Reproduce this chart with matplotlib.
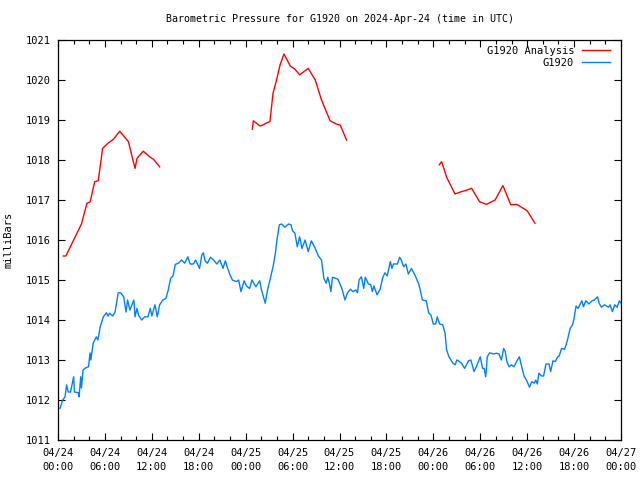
import matplotlib
matplotlib.use('Agg')
import matplotlib.pyplot as plt
from matplotlib.ticker import MultipleLocator

plt.rcParams['font.family'] = 'DejaVu Sans Mono'

# hours since 2024-04-24 00:00 UTC
analysis_hours_1 = [0.68, 1.0, 3.0, 3.7, 4.1, 4.7, 5.15, 5.7, 6.4, 7.1, 7.9, 9.0, 9.85, 10.1, 10.9, 11.8, 12.2, 13.0]
analysis_vals_1 = [1015.6, 1015.6, 1016.4, 1016.92, 1016.95, 1017.46, 1017.48, 1018.29, 1018.42, 1018.52, 1018.72,
                   1018.46, 1017.79, 1018.04, 1018.22, 1018.07, 1018.02, 1017.83]

analysis_hours_2 = [24.85, 24.98, 25.83, 26.25, 26.7, 27.1, 27.5, 28.0, 28.4, 28.9, 29.7, 30.3, 30.9, 32.0,
                    32.9, 33.7, 34.8, 35.6, 36.1, 36.9]
analysis_vals_2 = [1018.77, 1018.98, 1018.85, 1018.88, 1018.93, 1018.96, 1019.67, 1020.04, 1020.38, 1020.65,
                   1020.35, 1020.27, 1020.13, 1020.29, 1020.0, 1019.5, 1018.98, 1018.9, 1018.87, 1018.5]

analysis_hours_3 = [48.76, 49.06, 49.7, 50.77, 51.6, 52.0, 52.9, 53.9, 54.8, 55.9, 56.9, 57.9, 58.7, 60.0, 61.0]
analysis_vals_3 = [1017.88, 1017.96, 1017.57, 1017.15, 1017.21, 1017.23, 1017.29, 1016.96, 1016.89, 1017.0,
                   1017.36, 1016.88, 1016.89, 1016.73, 1016.42]

obs_hours = [0.25, 0.6, 0.9, 1.1, 1.3, 1.6, 2.0, 2.1, 2.6, 2.7, 2.9, 3.0, 3.2, 3.5, 3.9, 4.1, 4.2, 4.5, 4.9, 5.1,
             5.4, 5.8, 6.2, 6.4, 6.6, 7.0, 7.3, 7.7, 8.0, 8.4, 8.7, 8.9, 9.2, 9.7, 9.85, 10.1, 10.3, 10.7, 11.1,
             11.5, 11.8, 12.0, 12.4, 12.7, 13.0, 13.4, 13.8, 14.1, 14.4, 14.7, 15.0, 15.4, 15.8, 16.2, 16.6,
             16.9, 17.3, 17.6, 18.1, 18.4, 18.6, 18.8, 19.1, 19.5, 19.9, 20.3, 20.7, 21.1, 21.4, 21.7, 22.0,
             22.3, 22.8, 23.1, 23.4, 23.8, 24.1, 24.5, 24.8, 25.3, 25.8, 26.0, 26.5, 26.8, 27.1, 27.5, 27.8,
             28.0, 28.3, 28.6, 29.0, 29.5, 29.8, 30.0, 30.3, 30.6, 30.9, 31.2, 31.6, 32.0, 32.4, 32.9, 33.3,
             33.7, 34.0, 34.3, 34.5, 34.7, 34.9, 35.1, 35.5, 35.8, 36.3, 36.7, 37.0, 37.4, 37.7, 38.1, 38.3,
             38.5, 38.8, 39.1, 39.3, 39.7, 40.0, 40.2, 40.4, 40.8, 41.2, 41.5, 41.8, 42.1, 42.5, 42.7, 42.9,
             43.4, 43.7, 43.9, 44.2, 44.5, 44.8, 45.2, 45.7, 46.1, 46.3, 46.6, 47.1, 47.4, 47.7, 48.0, 48.3,
             48.5, 48.8, 49.2, 49.5, 49.7, 50.0, 50.5, 50.8, 51.0, 51.2, 51.6, 52.0, 52.5, 52.8, 53.2, 53.5,
             54.0, 54.3, 54.5, 54.7, 54.9, 55.2, 55.7, 56.1, 56.4, 56.7, 57.0, 57.2, 57.4, 57.7, 58.0, 58.3,
             58.7, 59.0, 59.3, 59.6, 59.9, 60.3, 60.6, 60.9, 61.1, 61.3, 61.5, 61.85, 62.1, 62.4, 62.8, 63.0,
             63.3, 63.6, 63.9, 64.1, 64.4, 64.8, 65.1, 65.5, 65.8, 66.0, 66.25, 66.5, 67.0, 67.2, 67.5, 67.9,
             68.3, 68.6, 69.0, 69.2, 69.5, 69.9, 70.4, 70.6, 70.9, 71.2, 71.5, 71.8, 72.0]
obs_vals = [1011.79, 1012.0, 1012.08, 1012.38, 1012.2, 1012.2, 1012.58, 1012.2, 1012.18, 1012.08, 1012.58, 1012.3,
            1012.75, 1012.8, 1012.83, 1013.18, 1013.0, 1013.42, 1013.58, 1013.5, 1013.83, 1014.08, 1014.18,
            1014.1, 1014.17, 1014.1, 1014.2, 1014.68, 1014.68, 1014.58, 1014.2, 1014.5, 1014.25, 1014.5,
            1014.08, 1014.29, 1014.12, 1014.0, 1014.08, 1014.08, 1014.29, 1014.1, 1014.38, 1014.08, 1014.38,
            1014.5, 1014.54, 1014.75, 1015.04, 1015.1, 1015.39, 1015.42, 1015.5, 1015.42, 1015.58, 1015.4,
            1015.4, 1015.5, 1015.29, 1015.63, 1015.68, 1015.48, 1015.42, 1015.57, 1015.5, 1015.4, 1015.5,
            1015.29, 1015.48, 1015.29, 1015.13, 1015.0, 1014.96, 1015.0, 1014.71, 1014.98, 1014.85, 1014.79,
            1015.0, 1014.83, 1014.98, 1014.77, 1014.42, 1014.75, 1015.0, 1015.33, 1015.67, 1016.0, 1016.38,
            1016.4, 1016.32, 1016.4, 1016.38, 1016.23, 1016.17, 1015.83, 1016.08, 1015.79, 1016.0, 1015.71,
            1015.98, 1015.79, 1015.6, 1015.5, 1015.04, 1014.92, 1015.07, 1014.92, 1014.71, 1015.07, 1015.04,
            1015.02, 1014.79, 1014.5, 1014.67, 1014.77, 1014.71, 1014.75, 1014.68, 1015.0, 1015.08, 1014.79,
            1015.07, 1014.9, 1014.88, 1014.71, 1014.85, 1014.63, 1014.77, 1015.04, 1015.18, 1015.1, 1015.46,
            1015.29, 1015.4, 1015.4, 1015.57, 1015.5, 1015.33, 1015.4, 1015.15, 1015.29, 1015.1, 1014.92,
            1014.77, 1014.5, 1014.48, 1014.18, 1014.12, 1013.9, 1013.9, 1014.08, 1013.9, 1013.88, 1013.67,
            1013.25, 1013.08, 1012.92, 1012.88, 1013.0, 1012.98, 1012.92, 1012.79, 1012.98, 1013.0, 1012.71,
            1012.83, 1013.08, 1012.79, 1012.79, 1012.58, 1013.08, 1013.18, 1013.15, 1013.17, 1013.15, 1013.0,
            1013.29, 1013.21, 1012.96, 1012.83, 1012.88, 1012.83, 1012.98, 1013.08, 1012.83, 1012.6, 1012.5,
            1012.32, 1012.46, 1012.42, 1012.5, 1012.4, 1012.67, 1012.6, 1012.6, 1012.9, 1012.9, 1012.71,
            1012.98, 1012.96, 1013.08, 1013.1, 1013.29, 1013.27, 1013.46, 1013.79, 1013.88, 1014.04, 1014.35,
            1014.29, 1014.48, 1014.33, 1014.48, 1014.4, 1014.48, 1014.5, 1014.58, 1014.42, 1014.32, 1014.38,
            1014.32, 1014.38, 1014.21, 1014.38, 1014.32, 1014.48, 1014.42]

tick_hours = list(range(0, 73, 6))
tick_labels = ['04/24\n00:00', '04/24\n06:00', '04/24\n12:00', '04/24\n18:00',
               '04/25\n00:00', '04/25\n06:00', '04/25\n12:00', '04/25\n18:00',
               '04/26\n00:00', '04/26\n06:00', '04/26\n12:00', '04/26\n18:00',
               '04/27\n00:00']

red = '#ff0000'
blue = '#0080ff'

fig = plt.figure(figsize=(6.4, 4.8), dpi=100)
ax = fig.add_axes([58 / 640, 1 - 440 / 480, (621 - 58) / 640, 400 / 480])

ax.plot(analysis_hours_1, analysis_vals_1, color=red, lw=1.0, label='G1920 Analysis')
ax.plot(analysis_hours_2, analysis_vals_2, color=red, lw=1.0)
ax.plot(analysis_hours_3, analysis_vals_3, color=red, lw=1.0)
ax.plot(obs_hours, obs_vals, color=blue, lw=1.0, label='G1920')

ax.set_xlim(0, 72)
ax.set_ylim(1011, 1021)
ax.set_xticks(tick_hours)
ax.set_xticklabels(tick_labels, linespacing=1.45)
ax.xaxis.set_minor_locator(MultipleLocator(2))
ax.yaxis.set_major_locator(MultipleLocator(1))
ax.yaxis.set_major_formatter(matplotlib.ticker.FormatStrFormatter('%d'))
ax.tick_params(which='both', direction='in', top=True, right=True, labelsize=7.5, width=0.8)
ax.tick_params(axis='x', pad=6)
ax.tick_params(axis='y', pad=5)
ax.tick_params(which='major', length=5)
ax.tick_params(which='minor', length=3)
for s in ax.spines.values():
    s.set_linewidth(0.9)

ax.set_ylabel('milliBars', fontsize=7.5, labelpad=9)
ax.set_title('Barometric Pressure for G1920 on 2024-Apr-24 (time in UTC)', fontsize=7.2, pad=13)

ax.legend(loc='upper right', bbox_to_anchor=(0.99, 1.0), frameon=False, markerfirst=False, fontsize=7.5,
          handlelength=2.7, handletextpad=0.7, labelspacing=0.2, borderaxespad=0.15)

plt.savefig('out.png', dpi=100)
